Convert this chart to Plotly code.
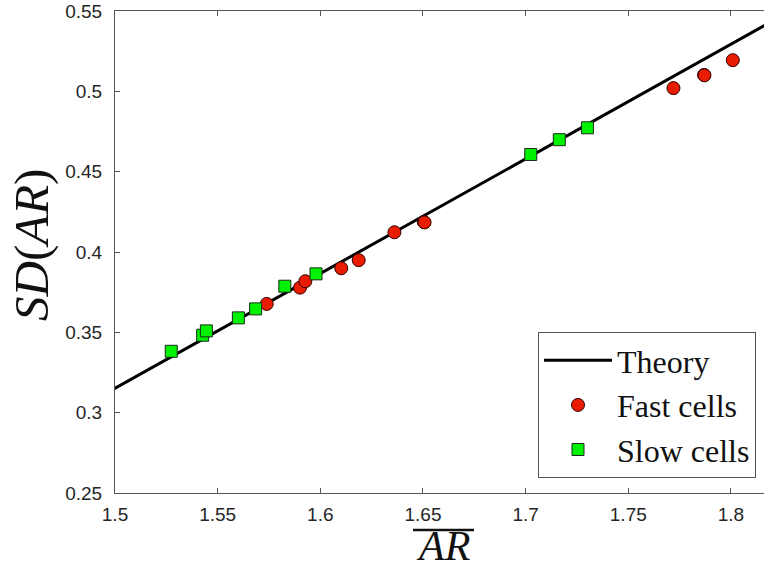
import plotly.graph_objects as go

# ---- data ----
theory_x = [1.49, 1.83]
theory_y = [0.3081, 0.5507]

fast_x = [1.5739, 1.5901, 1.5927, 1.6102, 1.6187, 1.6361, 1.6504, 1.6508, 1.7720, 1.7869, 1.7871, 1.8009]
fast_y = [0.3677, 0.3778, 0.3818, 0.3899, 0.3949, 0.4123, 0.4187, 0.4184, 0.5020, 0.5102, 0.5100, 0.5194]

slow_x = [1.5274, 1.5427, 1.5445, 1.5601, 1.5685, 1.5827, 1.5979, 1.7025, 1.7164, 1.7301]
slow_y = [0.3382, 0.3482, 0.3509, 0.3590, 0.3646, 0.3787, 0.3864, 0.4607, 0.4699, 0.4773]

x_ticks = [1.5, 1.55, 1.6, 1.65, 1.7, 1.75, 1.8]
x_ticklabels = ["1.5", "1.55", "1.6", "1.65", "1.7", "1.75", "1.8"]
y_ticks = [0.25, 0.3, 0.35, 0.4, 0.45, 0.5, 0.55]
y_ticklabels = ["0.25", "0.3", "0.35", "0.4", "0.45", "0.5", "0.55"]

W, H = 764, 572
L, R, T, B = 115, 0, 11, 79
pw, ph = W - L - R, H - T - B

def px(xp):
    return (xp - L) / pw

def py(yp):
    return (H - B - yp) / ph

fig = go.Figure()
fig.add_trace(go.Scatter(x=theory_x, y=theory_y, mode="lines", name="Theory",
                         line=dict(color="black", width=3)))
fig.add_trace(go.Scatter(x=fast_x, y=fast_y, mode="markers", name="Fast cells",
                         marker=dict(symbol="circle", size=13, color="#e81c00",
                                     line=dict(color="#300000", width=1))))
fig.add_trace(go.Scatter(x=slow_x, y=slow_y, mode="markers", name="Slow cells",
                         marker=dict(symbol="square", size=12, color="#00f200",
                                     line=dict(color="#1a2a1a", width=1))))

axis_common = dict(showgrid=False, zeroline=False, showline=True, linecolor="#555555",
                   linewidth=1, ticks="inside", ticklen=5, tickcolor="#555555",
                   tickfont=dict(family="Liberation Sans, Arial, sans-serif", size=19, color="#262626"))

fig.update_xaxes(range=[1.5, 1.8161], tickvals=x_ticks, ticktext=x_ticklabels,
                 mirror="ticks", ticklabelstandoff=4, **axis_common)
fig.update_yaxes(range=[0.25, 0.55], tickvals=y_ticks, ticktext=y_ticklabels,
                 mirror=False, ticklabelstandoff=8, **axis_common)

serif = "Liberation Serif, Times New Roman, serif"

fig.add_annotation(text="<i>SD</i>(<i>AR</i>)", xref="paper", yref="paper",
                   x=px(31), y=py(245), xanchor="center", yanchor="middle",
                   textangle=-90, showarrow=False,
                   font=dict(family=serif, size=49, color="#111111"))
fig.add_annotation(text="<i>AR</i>", xref="paper", yref="paper",
                   x=px(443), y=py(546), xanchor="center", yanchor="middle",
                   showarrow=False, font=dict(family=serif, size=42, color="#111111"))
fig.add_shape(type="line", xref="paper", yref="paper",
              x0=px(413), x1=px(474), y0=py(530), y1=py(530),
              line=dict(color="#111111", width=2.5))

fig.update_layout(
    width=W, height=H,
    margin=dict(l=L, r=R, t=T, b=B, pad=0),
    paper_bgcolor="white", plot_bgcolor="white",
    showlegend=True,
    legend=dict(x=px(756), y=py(478), xanchor="right", yanchor="bottom",
                bgcolor="white", bordercolor="#555555", borderwidth=1,
                font=dict(family=serif, size=32, color="#111111"),
                itemwidth=68, tracegroupgap=0),
)

fig.write_html("out.html")
